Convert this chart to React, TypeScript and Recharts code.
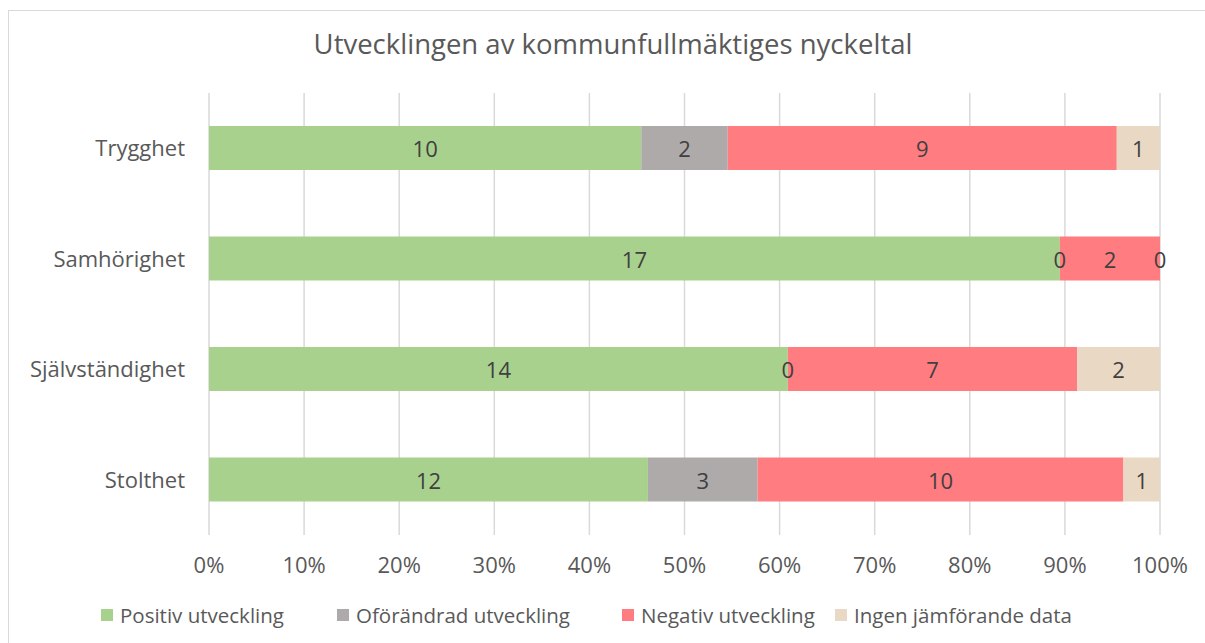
import React from 'react';
import { BarChart, Bar, XAxis, YAxis, CartesianGrid, LabelList } from 'recharts';

const categories = ['Trygghet', 'Samhörighet', 'Självständighet', 'Stolthet'];
const positiv = [10, 17, 14, 12];
const oforandrad = [2, 0, 0, 3];
const negativ = [9, 2, 7, 10];
const ingen = [1, 0, 2, 1];
const xTicks = [0, 0.1, 0.2, 0.3, 0.4, 0.5, 0.6, 0.7, 0.8, 0.9, 1];

const series = [
  { key: 'pos', name: 'Positiv utveckling', color: '#A9D18E' },
  { key: 'ofo', name: 'Oförändrad utveckling', color: '#AEAAAA' },
  { key: 'neg', name: 'Negativ utveckling', color: '#FF7C80' },
  { key: 'ing', name: 'Ingen jämförande data', color: '#E9D8C4' },
];
const legendLefts = [101, 337, 622, 835];

const data = categories.map((c, i) => ({
  name: c,
  pos: positiv[i],
  ofo: oforandrad[i],
  neg: negativ[i],
  ing: ingen[i],
}));

const FONT = '"Open Sans", sans-serif';
const TXT = '#595959';
const LBL = '#404040';
const FS = 22;

const makeLabel = (key: string) => (props: any) => {
  const { x, y, width, height, value, index } = props;
  const row = data[index];
  const cy = Number(y) + Number(height) / 2;
  const items: React.ReactNode[] = [];
  const common = { fontFamily: FONT, fontSize: FS, fill: LBL, textAnchor: 'middle' as const, dominantBaseline: 'central' as const };
  if (value !== 0) {
    items.push(
      <text key="v" x={Number(x) + Number(width) / 2} y={cy} {...common}>{value}</text>
    );
  }
  if (key === 'neg') {
    if (row.ofo === 0) {
      items.push(<text key="l" x={Number(x)} y={cy} {...common}>0</text>);
    }
    if (row.ing === 0) {
      items.push(<text key="r" x={Number(x) + Number(width)} y={cy} {...common}>0</text>);
    }
  }
  return <g>{items}</g>;
};

export default function App() {
  return (
    <div style={{ position: 'absolute', left: 0, top: 0, width: 1205, height: 643, background: '#fff', overflow: 'hidden' }}>
      <div style={{ position: 'absolute', left: 8, top: 10, width: 1300, height: 700, border: '1px solid #D9D9D9', boxSizing: 'border-box' }} />
      <div style={{ position: 'absolute', left: 0, top: 25, width: 1226, textAlign: 'center', fontFamily: FONT, fontSize: 27.5, color: TXT }}>
        Utvecklingen av kommunfullmäktiges nyckeltal
      </div>
      <BarChart
        width={1205}
        height={643}
        data={data}
        layout="vertical"
        stackOffset="expand"
        margin={{ top: 93, right: 45, bottom: 48, left: 0 }}
        style={{ position: 'absolute', left: 0, top: 0 }}
      >
        <CartesianGrid horizontal={false} stroke="#D9D9D9" strokeWidth={1.5} />
        <XAxis
          type="number"
          domain={[0, 1]}
          ticks={xTicks}
          tickFormatter={(v: number) => `${Math.round(v * 100)}%`}
          axisLine={false}
          tickLine={false}
          tickMargin={16}
          height={60}
          tick={{ fontFamily: FONT, fontSize: FS, fill: TXT }}
          interval={0}
        />
        <YAxis
          type="category"
          dataKey="name"
          width={209}
          axisLine={false}
          tickLine={false}
          tickMargin={18}
          tick={{ fontFamily: FONT, fontSize: FS, fill: TXT }}
        />
        {series.map((s) => (
          <Bar key={s.key} dataKey={s.key} name={s.name} stackId="a" fill={s.color} barSize={44} isAnimationActive={false}>
            <LabelList dataKey={s.key} content={makeLabel(s.key)} />
          </Bar>
        ))}
      </BarChart>
      {series.map((s, i) => (
        <div
          key={s.key}
          style={{
            position: 'absolute',
            left: legendLefts[i],
            top: 601,
            display: 'flex',
            alignItems: 'center',
            fontFamily: FONT,
            fontSize: 20.5,
            color: TXT,
            whiteSpace: 'nowrap',
          }}
        >
          <div style={{ width: 12, height: 12, background: s.color, marginRight: 7, flexShrink: 0 }} />
          <span>{s.name}</span>
        </div>
      ))}
    </div>
  );
}
